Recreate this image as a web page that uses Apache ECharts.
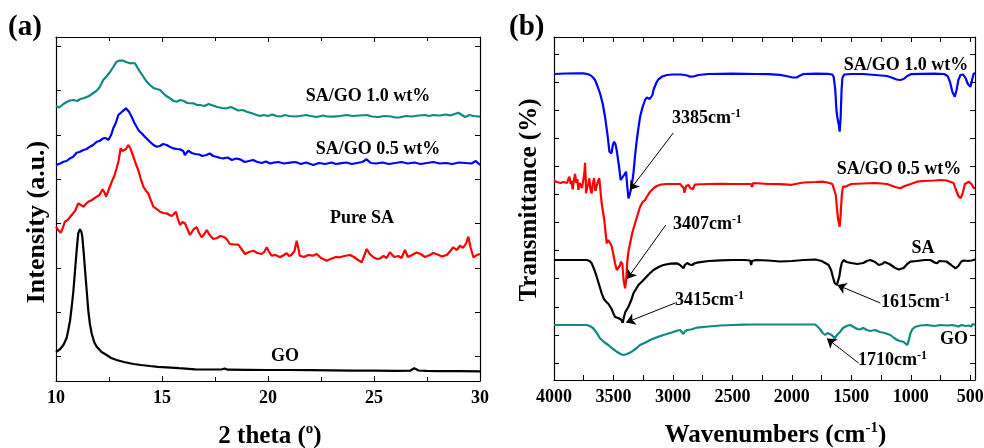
<!DOCTYPE html>
<html>
<head>
<meta charset="utf-8">
<script src="https://cdn.jsdelivr.net/npm/echarts@6/dist/echarts.min.js"></script>
<style>html,body{margin:0;padding:0;background:#fff}#c{width:984px;height:448px}</style>
</head>
<body>
<div id="c"></div>
<script>
// ---------- (a) XRD: [2theta, intensity a.u.] ----------
const xrd_SAGO10 = [[10.0,275],[10.15,273.5],[10.35,277],[10.5,279],[10.66,280.5],[10.82,281],[11.0,280],[11.15,282],[11.29,282.7],[11.45,284],[11.6,285.5],[11.76,288],[11.9,290],[12.05,293.5],[12.23,301],[12.4,305],[12.55,309],[12.7,314],[12.86,319.3],[13.0,320.5],[13.18,320.3],[13.3,319],[13.49,317.7],[13.6,318],[13.73,317.5],[13.85,313],[13.96,309.3],[14.1,305],[14.25,300],[14.43,296],[14.6,293],[14.75,292],[14.91,291],[15.05,288],[15.2,285],[15.38,282.7],[15.55,280],[15.69,279.3],[15.85,281],[16.0,280.3],[16.2,278],[16.48,277.7],[16.65,276],[16.79,276],[17.0,275],[17.2,277],[17.4,275.5],[17.6,274],[17.85,273],[18.05,272.7],[18.25,274],[18.45,272],[18.6,270.5],[18.8,271],[19.0,269.3],[19.2,268],[19.4,266.5],[19.62,265],[19.8,266],[20.0,265],[20.2,266.5],[20.4,265],[20.6,264.5],[20.8,266],[21.0,265],[21.3,264.5],[21.5,265],[21.8,266],[22.0,265],[22.3,264],[22.6,265.5],[22.8,264.5],[23.08,264.3],[23.4,265],[23.7,266],[24.0,265],[24.3,265.5],[24.66,266],[24.9,264.5],[25.2,264],[25.5,265],[25.8,264.5],[26.0,263.5],[26.23,263.7],[26.5,265],[26.8,264.5],[27.1,265.5],[27.4,266],[27.6,265],[27.8,266],[28.1,265.5],[28.4,266.5],[28.6,265.5],[28.98,268.3],[29.15,266],[29.3,264],[29.5,266],[29.7,265],[30.0,264.3]];
const xrd_SAGO05 = [[10.0,216],[10.2,217.5],[10.35,219.3],[10.5,220],[10.66,222.7],[10.8,224],[10.97,228.3],[11.1,229],[11.29,231],[11.45,232],[11.6,234.3],[11.75,236],[11.92,239.3],[12.05,240],[12.23,242.7],[12.35,243],[12.47,241],[12.6,246],[12.7,252.7],[12.82,258],[12.94,266],[13.1,269],[13.3,272.7],[13.45,269],[13.57,264.3],[13.7,258],[13.8,254.3],[13.92,250],[14.04,247.7],[14.2,244],[14.43,239.3],[14.6,236],[14.75,234.3],[14.9,235],[15.05,237],[15.22,236],[15.38,234],[15.53,232.7],[15.7,232],[15.85,231.7],[16.0,230],[16.08,226],[16.16,228],[16.24,230.3],[16.4,228],[16.56,227],[16.75,226.5],[16.9,225],[17.1,226],[17.25,227.5],[17.42,225],[17.6,224],[17.75,223],[17.9,222.7],[18.1,223.5],[18.3,221],[18.5,222.5],[18.68,221.7],[18.9,219],[19.1,220],[19.3,221],[19.47,219.3],[19.7,218],[19.9,219.5],[20.1,217.5],[20.25,218.3],[20.5,219],[20.75,217.5],[21.04,218.3],[21.3,219],[21.55,217],[21.8,218.5],[22.14,216],[22.4,218],[22.7,217],[23.0,218.5],[23.2,217],[23.4,217.7],[23.7,218.5],[23.95,217],[24.2,218],[24.45,219],[24.65,221.7],[24.85,218],[25.1,217.5],[25.4,218.5],[25.7,217],[26.0,218],[26.3,219],[26.6,217.5],[26.9,218.5],[27.2,217],[27.5,218],[27.8,219],[28.1,217.5],[28.4,218],[28.7,217],[29.0,218.5],[29.3,218],[29.6,217.5],[29.8,220],[30.0,216]];
const xrd_PureSA = [[10.0,154.3],[10.1,151],[10.22,148.3],[10.32,153],[10.42,159.3],[10.55,161],[10.74,166],[10.9,170],[11.05,177.7],[11.17,176],[11.29,174.3],[11.4,177],[11.52,179.3],[11.7,181],[11.92,184.3],[12.05,186],[12.2,191.7],[12.3,188],[12.36,184.3],[12.5,192],[12.63,199.3],[12.75,205],[12.86,212.7],[12.95,220],[13.05,232.7],[13.13,230],[13.21,229.3],[13.3,232],[13.41,236],[13.52,232],[13.65,224.3],[13.75,218],[13.88,211],[14.0,202],[14.12,194.3],[14.25,190],[14.35,187.7],[14.45,182],[14.59,174.3],[14.75,172],[14.91,169.3],[15.05,168],[15.22,167.7],[15.35,166],[15.46,165],[15.56,167],[15.66,169.3],[15.75,162],[15.85,156],[15.97,159],[16.08,157.7],[16.2,152],[16.32,146],[16.4,147],[16.5,152],[16.64,153.7],[16.75,148],[16.87,143.7],[17.0,147],[17.11,151],[17.25,146],[17.42,142],[17.6,143],[17.75,145],[17.9,144.3],[18.05,142],[18.2,137],[18.4,136.5],[18.6,136.3],[18.75,132],[18.92,127],[19.1,129],[19.31,130.3],[19.5,128],[19.7,127],[19.82,129],[19.94,133.7],[20.05,129],[20.17,125.3],[20.35,126],[20.57,123.7],[20.75,126],[20.88,127.7],[21.0,125],[21.1,126],[21.25,130],[21.35,140.3],[21.45,131],[21.5,125.3],[21.7,124],[21.9,126],[22.13,125.3],[22.3,127],[22.5,123],[22.77,120.3],[22.95,122],[23.2,124],[23.4,123.7],[23.6,125],[23.87,126],[24.05,124],[24.25,121],[24.42,118.7],[24.55,126],[24.66,132],[24.8,127],[24.97,123.7],[25.15,122],[25.28,122.5],[25.45,125],[25.6,123],[25.75,128.7],[25.95,124],[26.15,125],[26.3,123],[26.46,131],[26.6,124],[26.8,126],[27.01,128.5],[27.2,127],[27.4,124],[27.64,126],[27.8,128],[28.0,126.5],[28.2,124.5],[28.43,126],[28.6,130],[28.74,133.7],[28.9,131],[29.06,135.3],[29.2,133],[29.35,138],[29.45,144.3],[29.55,134],[29.69,123.7],[29.85,126],[30.0,127]];
const xrd_GO = [[10.0,29],[10.2,32],[10.35,36],[10.5,43],[10.58,51],[10.66,60],[10.74,74],[10.82,90],[10.9,111],[10.98,132],[11.05,147.7],[11.13,151.7],[11.2,149],[11.24,144.3],[11.3,130],[11.37,111],[11.45,90],[11.52,71],[11.6,57],[11.68,47.7],[11.8,39],[11.92,34.3],[12.15,29],[12.39,26],[12.6,23],[12.86,21],[13.2,19],[13.65,17],[14.0,16],[14.43,15],[14.8,14.2],[15.22,13.7],[15.8,12.8],[16.56,11.7],[17.2,11.5],[17.8,11.5],[17.95,12.5],[18.1,11.3],[19,11.2],[20,11],[21,11],[22,10.8],[23,10.6],[24,10.4],[25,10.3],[26,10.2],[26.7,10.3],[26.9,12.7],[27.1,10.5],[27.5,10.1],[28,9.9],[29,9.8],[30,9.7]];
const xrdTicksX = [10, 15, 20, 25, 30];
const xrdTicksY = [24.5, 68.8, 113.1, 157.4, 201.7, 246.0, 290.3, 334.6];

// ---------- (b) FTIR: [wavenumber cm-1, transmittance a.u.] ----------
const ftir_SAGO10 = [[4000,306],[3900,306.5],[3800,306.7],[3753,306.7],[3720,306],[3697,305],[3675,303],[3655,300],[3635,294],[3613,286.7],[3590,276],[3571,263.3],[3550,245],[3534,228.3],[3517,226.7],[3505,235],[3495,238.3],[3484,236],[3473,230],[3455,215],[3439,200],[3425,202],[3411,205],[3400,207],[3394,208.3],[3385,195],[3374,181.7],[3365,185],[3354,190],[3340,200],[3332,206.7],[3318,225],[3304,240],[3290,252],[3276,263.3],[3255,273],[3234,280],[3220,282.5],[3206,283.3],[3195,281],[3183,279.3],[3172,285],[3164,290],[3140,297],[3122,300.7],[3090,303.5],[3051,305],[3000,305.5],[2930,305.5],[2880,304.5],[2869,303],[2855,303.3],[2840,305],[2828,303.5],[2815,305.5],[2785,305],[2771,305.7],[2700,306],[2600,306.2],[2500,306.3],[2400,306.2],[2300,306],[2200,305.8],[2100,305.2],[2050,304],[2000,302.7],[1960,302.5],[1930,304.5],[1900,306],[1800,306.3],[1700,306.2],[1660,305.5],[1648,303],[1635,290],[1625,270],[1618,263],[1612,262],[1605,255],[1598,248.3],[1590,262],[1582,290],[1575,302],[1560,305.5],[1500,306],[1400,306],[1300,305],[1200,304],[1150,302],[1120,300.5],[1088,300],[1060,301],[1030,304],[1000,305.8],[900,306.2],[800,306.3],[720,306],[690,304],[670,298],[650,288],[630,283.3],[615,290],[600,300],[582,305],[560,305.5],[540,302],[520,296],[498,293.3],[485,300],[470,306.7],[460,306]];
const ftir_SAGO05 = [[4000,199.3],[3992,199.3],[3975,198],[3960,199],[3945,197],[3936,196.7],[3920,198],[3905,199.5],[3890,197],[3880,201],[3870,203.3],[3860,196],[3852,199],[3843,190.7],[3835,198],[3823,206],[3812,197],[3804,201],[3795,190],[3785,197],[3775,196],[3765,192],[3755,199],[3745,206],[3739,217.3],[3733,200],[3731,186.7],[3720,193],[3712,196],[3703,201.7],[3693,190],[3683,186.7],[3675,195],[3663,202],[3652,189],[3641,187],[3630,199],[3619,201.7],[3610,190],[3599,176.7],[3588,168],[3577,160],[3567,148],[3557,136.7],[3545,140],[3534,141.7],[3524,136],[3514,133.3],[3500,125],[3487,116.7],[3472,110],[3459,108.3],[3448,114],[3436,118.3],[3425,116],[3415,100],[3402,91.7],[3393,100],[3383,120],[3372,130],[3360,136.7],[3340,148],[3318,156.7],[3300,164],[3276,173.3],[3255,178],[3234,180],[3220,183],[3192,188.3],[3160,192],[3136,194],[3100,195.5],[3051,196],[3000,196],[2940,196],[2925,195.5],[2910,192],[2903,187.3],[2890,194],[2869,195],[2855,192],[2840,194],[2832,190.7],[2815,195.5],[2799,196],[2700,196],[2600,196.2],[2500,196],[2400,196],[2345,196],[2335,193],[2331,191.5],[2325,197],[2315,196],[2200,196],[2100,195.8],[2000,195.2],[1950,196.5],[1900,197.5],[1800,198],[1747,198.3],[1700,197.5],[1660,196],[1645,194],[1630,185],[1620,170],[1610,160],[1598,153.3],[1590,165],[1580,185],[1570,193.5],[1551,193.3],[1500,196],[1400,196.5],[1300,197],[1200,196],[1130,193],[1088,191.7],[1050,194],[1000,196],[947,198.3],[900,199],[800,199.5],[751,200],[700,199.5],[640,197],[620,190],[600,184],[582,181.7],[565,186],[545,196],[512,198.3],[490,196],[470,191.7],[460,192]];
const ftir_SA = [[4000,120],[3900,120],[3800,120],[3725,120],[3700,119],[3683,116.7],[3660,110],[3641,103.3],[3620,95],[3599,86.7],[3580,81],[3563,78.3],[3545,76.5],[3529,75],[3515,71],[3501,66.7],[3487,63],[3473,61.7],[3460,62],[3445,63.3],[3432,60],[3422,57.3],[3412,63],[3400,68],[3374,73.3],[3350,80],[3332,86.7],[3310,91],[3290,95],[3260,98.5],[3234,101.7],[3200,106],[3164,110],[3120,113],[3080,115],[3020,116.3],[2967,116.7],[2940,115],[2925,113],[2912,111.7],[2900,115],[2880,117],[2860,115.5],[2838,115],[2820,116.5],[2799,117.3],[2700,119],[2600,119.7],[2500,120],[2400,120],[2350,119.5],[2342,115],[2335,119],[2300,120],[2200,119.5],[2100,118.5],[2000,119],[1900,120],[1800,120.5],[1750,119],[1720,117],[1691,115],[1670,110],[1655,103],[1640,97],[1630,95],[1621,95],[1610,97],[1600,104],[1590,112],[1580,117],[1565,120],[1540,118],[1500,117],[1450,116],[1400,117],[1370,119],[1340,120],[1300,118],[1270,115],[1256,113.3],[1240,116],[1220,118],[1180,116],[1130,112],[1100,110.5],[1088,110],[1060,112],[1030,116],[1003,118.3],[950,119],[880,120],[835,120],[800,117.5],[779,116.7],[760,119],[700,118.5],[660,115],[624,111.7],[600,114],[575,118.5],[554,119.5],[520,119],[490,119.5],[470,120],[460,121]];
const ftir_GO = [[4000,55],[3900,55],[3800,55],[3725,55],[3700,54],[3669,51.7],[3640,47],[3613,41.7],[3580,38],[3543,35],[3510,31.5],[3473,28.3],[3440,26],[3417,25],[3390,25.8],[3346,28.3],[3310,31.5],[3276,35],[3230,37.5],[3192,40],[3140,42.5],[3080,45],[3010,47.5],[2960,49.5],[2939,50],[2925,48],[2912,46],[2900,48.5],[2880,50],[2850,50.5],[2799,52.3],[2700,53.5],[2600,54.5],[2500,55],[2400,55.3],[2300,55.5],[2200,55.5],[2100,55.5],[2000,55.5],[1900,55.5],[1803,55.5],[1780,53],[1761,50.5],[1740,47],[1719,45],[1700,47],[1685,48.3],[1665,45],[1641,41.7],[1620,45],[1593,48.3],[1570,52],[1551,53.3],[1530,54.5],[1508,55],[1480,53],[1450,51],[1424,50.7],[1400,52],[1370,50],[1340,49],[1300,50],[1260,48],[1220,47],[1172,45],[1140,42],[1115,40],[1090,39],[1060,38],[1045,37],[1031,35],[1018,39],[1003,46.7],[985,51],[960,53.3],[920,54.5],[862,55],[800,54],[750,55],[700,54.5],[650,55],[600,53.5],[570,55],[540,54],[510,54.5],[490,53.5],[480,56],[460,55]];
const ftirLabelsX = [4000, 3500, 3000, 2500, 2000, 1500, 1000, 500];
const ftirTicksX = [4000, 3750, 3500, 3250, 3000, 2750, 2500, 2250, 2000, 1750, 1500, 1250, 1000, 750, 500];
const ftirTicksY = [17, 45.1, 73.2, 101.3, 129.4, 157.5, 185.6, 213.7, 241.8, 269.9, 298, 326.1];
// annotation arrows: [from (label end), to (peak)]
const ftirArrows = [
  [[2998, 247], [3362, 190]],
  [[3060, 155], [3386, 101]],
  [[2981, 77], [3394, 57.5]],
  [[1256, 77], [1618, 95]],
  [[1439, 17], [1705, 41.5]]
];

const FONT = 'Liberation Serif, Times New Roman, serif';
const tickLabel = { fontFamily: FONT, fontWeight: 'bold', fontSize: 18, color: '#000' };
const axisLineStyle = { show: true, onZero: false, lineStyle: { color: '#000', width: 1.2 } };
const tickIn = { show: true, inside: true, length: 5, lineStyle: { color: '#000', width: 1 } };

const chart = echarts.init(document.getElementById('c'), null, { renderer: 'canvas' });

function lineSeries(name, data, color, xi, yi, extra) {
  return Object.assign({
    name: name, type: 'line', data: data, xAxisIndex: xi, yAxisIndex: yi,
    showSymbol: false, symbol: 'none', smooth: false, animation: false,
    lineStyle: { color: color, width: 2.2 }, itemStyle: { color: color }, z: 3
  }, extra || {});
}

const titleRich = {
  t: { fontFamily: FONT, fontWeight: 'bold', fontSize: 25, color: '#000', lineHeight: 30 },
  s: { fontFamily: FONT, fontWeight: 'bold', fontSize: 15, color: '#000', verticalAlign: 'top', lineHeight: 14 }
};
const lblStyle = { fontFamily: FONT, fontWeight: 'bold', fontSize: 18, fill: '#000' };
const supRich = {
  a: { fontFamily: FONT, fontWeight: 'bold', fontSize: 18, color: '#000', lineHeight: 20 },
  s: { fontFamily: FONT, fontWeight: 'bold', fontSize: 12, color: '#000', verticalAlign: 'top', lineHeight: 8 }
};
function txt(x, y, text, align) {
  return { type: 'text', x: x, y: y, z: 10, silent: true,
    style: Object.assign({ text: text, align: align || 'center', verticalAlign: 'middle' }, lblStyle) };
}
function supTxt(x, y, main, sup) {
  return { type: 'text', x: x, y: y, z: 10, silent: true,
    style: { text: '{a|' + main + '}{s|' + sup + '}', rich: supRich, align: 'left', verticalAlign: 'middle' } };
}
function vTitle(x, y, text, size) {
  return { type: 'text', x: x, y: y, rotation: Math.PI / 2, z: 10, silent: true,
    style: { text: text, fontFamily: FONT, fontWeight: 'bold', fontSize: size, fill: '#000', align: 'center', verticalAlign: 'middle' } };
}

const option = {
  animation: false,
  backgroundColor: '#fff',
  grid: [
    { left: 56, right: 504, top: 37, bottom: 67, show: false, containLabel: false, outerBoundsMode: 'none' },
    { left: 554, right: 9, top: 37, bottom: 68, show: false, containLabel: false, outerBoundsMode: 'none' }
  ],
  xAxis: [
    { gridIndex: 0, type: 'value', min: 10, max: 30, interval: 5, position: 'bottom',
      axisLine: axisLineStyle, axisTick: tickIn,
      minorTick: { show: true, splitNumber: 2, length: 4, lineStyle: { color: '#000' } },
      axisLabel: Object.assign({ margin: 8, customValues: xrdTicksX, formatter: v => String(v) }, tickLabel),
      splitLine: { show: false },
      name: '{t|2 theta (}{s|o}{t|)}', nameLocation: 'middle', nameGap: 41,
      nameTextStyle: { rich: titleRich, padding: [0, 0, 0, 4] } },
    { gridIndex: 0, type: 'value', min: 10, max: 30, interval: 5, position: 'top',
      axisLine: axisLineStyle, axisTick: tickIn,
      minorTick: { show: true, splitNumber: 2, length: 4, lineStyle: { color: '#000' } },
      axisLabel: { show: false }, splitLine: { show: false } },
    { gridIndex: 1, type: 'value', min: 460, max: 4000, inverse: true, position: 'bottom',
      axisLine: axisLineStyle,
      axisTick: Object.assign({ customValues: ftirTicksX }, tickIn),
      axisLabel: Object.assign({ margin: 8, customValues: ftirLabelsX, formatter: v => String(v) }, tickLabel),
      splitLine: { show: false },
      name: '{t|Wavenumbers (cm}{s|-1}{t|)}', nameLocation: 'middle', nameGap: 41,
      nameTextStyle: { rich: titleRich, padding: [0, 0, 0, 22] } },
    { gridIndex: 1, type: 'value', min: 460, max: 4000, inverse: true, position: 'top',
      axisLine: axisLineStyle,
      axisTick: Object.assign({ customValues: ftirTicksX }, tickIn),
      axisLabel: { show: false }, splitLine: { show: false } }
  ],
  yAxis: [
    { gridIndex: 0, type: 'value', min: 0, max: 344, position: 'left',
      axisLine: axisLineStyle, axisTick: Object.assign({ customValues: xrdTicksY }, tickIn),
      axisLabel: { show: false }, splitLine: { show: false } },
    { gridIndex: 0, type: 'value', min: 0, max: 344, position: 'right',
      axisLine: axisLineStyle, axisTick: Object.assign({ customValues: xrdTicksY }, tickIn),
      axisLabel: { show: false }, splitLine: { show: false } },
    { gridIndex: 1, type: 'value', min: 0, max: 343, position: 'left',
      axisLine: axisLineStyle, axisTick: Object.assign({ customValues: ftirTicksY }, tickIn),
      axisLabel: { show: false }, splitLine: { show: false } },
    { gridIndex: 1, type: 'value', min: 0, max: 343, position: 'right',
      axisLine: axisLineStyle, axisTick: Object.assign({ customValues: ftirTicksY }, tickIn),
      axisLabel: { show: false }, splitLine: { show: false } }
  ],
  series: [
    lineSeries('SA/GO 1.0 wt%', xrd_SAGO10, '#0e8a80', 0, 0),
    lineSeries('SA/GO 0.5 wt%', xrd_SAGO05, '#0000ff', 0, 0),
    lineSeries('Pure SA', xrd_PureSA, '#ff0000', 0, 0),
    lineSeries('GO', xrd_GO, '#000000', 0, 0),
    lineSeries('SA/GO 1.0 wt% ', ftir_SAGO10, '#0000ff', 2, 2),
    lineSeries('SA/GO 0.5 wt% ', ftir_SAGO05, '#ff0000', 2, 2),
    lineSeries('SA', ftir_SA, '#000000', 2, 2, {
      markLine: {
        silent: true, animation: false, symbol: ['none', 'arrow'], symbolSize: 9,
        label: { show: false }, emphasis: { disabled: true },
        lineStyle: { color: '#000', width: 1, type: 'solid' },
        data: ftirArrows.map(a => [{ coord: a[0] }, { coord: a[1] }])
      }
    }),
    lineSeries('GO ', ftir_GO, '#0e8a80', 2, 2)
  ],
  graphic: [
    { type: 'text', x: 8, y: 28, style: { text: '(a)', fontFamily: FONT, fontWeight: 'bold', fontSize: 29, fill: '#000', verticalAlign: 'middle', align: 'left' } },
    { type: 'text', x: 509, y: 28, style: { text: '(b)', fontFamily: FONT, fontWeight: 'bold', fontSize: 29, fill: '#000', verticalAlign: 'middle', align: 'left' } },
    vTitle(37, 222, 'Intensity (a.u.)', 26),
    vTitle(530, 200, 'Transmittance (%)', 25),
    txt(368, 96, 'SA/GO 1.0 wt%'),
    txt(378, 149, 'SA/GO 0.5 wt%'),
    txt(362, 218, 'Pure SA'),
    txt(285, 356, 'GO'),
    txt(906, 65, 'SA/GO 1.0 wt%'),
    txt(899, 169, 'SA/GO 0.5 wt%'),
    txt(923, 248, 'SA'),
    txt(954, 339, 'GO'),
    supTxt(672, 118, '3385cm', '-1'),
    supTxt(673, 224, '3407cm', '-1'),
    supTxt(675, 300, '3415cm', '-1'),
    supTxt(881, 302, '1615cm', '-1'),
    supTxt(858, 360, '1710cm', '-1')
  ]
};
chart.setOption(option);
</script>
</body>
</html>
